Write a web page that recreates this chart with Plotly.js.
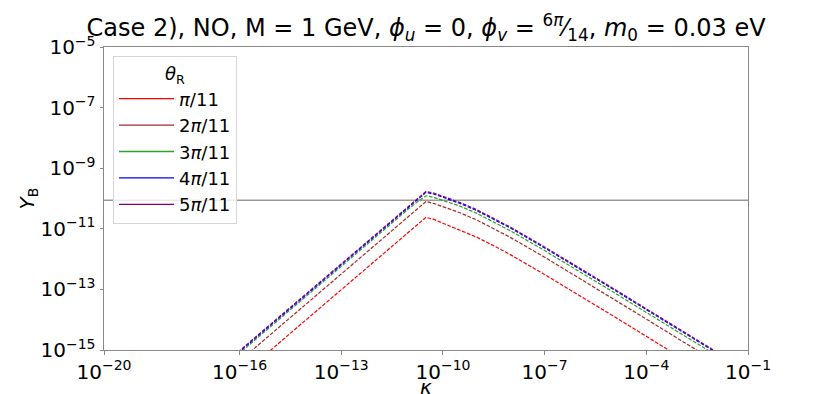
<!DOCTYPE html>
<html>
<head>
<meta charset="utf-8">
<script src="https://cdn.plot.ly/plotly-3.0.1.min.js"></script>
<style>html,body{margin:0;padding:0;background:#fff;}#chart{width:831px;height:394px;}</style>
</head>
<body>
<div id="chart"></div>
<script>
// kappa values (x)
const kappa = [1e-17, 1e-16, 1e-15, 1e-14, 1e-13, 1e-12, 3.16e-12, 1e-11, 1.78e-11, 3.16e-11, 5.62e-11, 1e-10, 3.16e-10, 1e-9, 3.16e-9, 1e-8, 1e-7, 1e-6, 1e-5, 1e-4, 1e-3, 1e-2, 1e-1];

// Y_B for each theta_R
const yb_1 = [1.45e-17, 1.32e-16, 1.20e-15, 1.10e-14, 9.99e-14, 9.12e-13, 2.76e-12, 8.32e-12, 1.45e-11, 2.40e-11, 2.00e-11, 1.54e-11, 9.11e-12, 5.25e-12, 2.76e-12, 1.38e-12, 3.09e-13, 6.61e-14, 1.38e-14, 2.82e-15, 5.76e-16, 1.17e-16, 2.46e-17];
const yb_2 = [4.80e-17, 4.36e-16, 3.98e-15, 3.63e-14, 3.31e-13, 3.02e-12, 9.14e-12, 2.76e-11, 4.80e-11, 7.94e-11, 6.76e-11, 5.35e-11, 3.39e-11, 1.95e-11, 1.02e-11, 5.12e-12, 1.15e-12, 2.45e-13, 5.12e-14, 1.05e-14, 2.14e-15, 4.36e-16, 9.14e-17];
const yb_3 = [8.74e-17, 7.94e-16, 7.25e-15, 6.61e-14, 6.02e-13, 5.50e-12, 1.59e-11, 4.68e-11, 7.78e-11, 1.23e-10, 1.07e-10, 8.47e-11, 5.62e-11, 3.24e-11, 1.70e-11, 8.50e-12, 1.91e-12, 4.08e-13, 8.50e-14, 1.74e-14, 3.55e-15, 7.25e-16, 1.52e-16];
const yb_4 = [9.8e-17, 8.91e-16, 8.13e-15, 7.41e-14, 6.76e-13, 6.17e-12, 1.87e-11, 5.63e-11, 9.8e-11, 1.59e-10, 1.38e-10, 1.09e-10, 6.92e-11, 3.98e-11, 2.09e-11, 1.05e-11, 2.34e-12, 5.01e-13, 1.05e-13, 2.14e-14, 4.37e-15, 8.91e-16, 1.87e-16];
const yb_5 = [1.05e-16, 9.55e-16, 8.71e-15, 7.94e-14, 7.24e-13, 6.61e-12, 2.00e-11, 6.03e-11, 1.05e-10, 1.70e-10, 1.48e-10, 1.17e-10, 7.41e-11, 4.27e-11, 2.24e-11, 1.12e-11, 2.51e-12, 5.37e-13, 1.12e-13, 2.29e-14, 4.68e-15, 9.55e-16, 2.00e-16];

const seriesNames = ['<i>π</i>/11', '2<i>π</i>/11', '3<i>π</i>/11', '4<i>π</i>/11', '5<i>π</i>/11'];
const seriesData = [yb_1, yb_2, yb_3, yb_4, yb_5];
const seriesColors = ['#ff0000', '#a52a2a', '#2ca02c', '#0000ff', '#800080'];

// observed baryon asymmetry
const YB_OBS = 8.7e-11;

// tick labels
const xTickVals = [1e-20, 1e-16, 1e-13, 1e-10, 1e-7, 1e-4, 1e-1];
const xTickText = ['10<sup>−20</sup>', '10<sup>−16</sup>', '10<sup>−13</sup>', '10<sup>−10</sup>', '10<sup>−7</sup>', '10<sup>−4</sup>', '10<sup>−1</sup>'];
const yTickVals = [1e-15, 1e-13, 1e-11, 1e-9, 1e-7, 1e-5];
const yTickText = ['10<sup>−15</sup>', '10<sup>−13</sup>', '10<sup>−11</sup>', '10<sup>−9</sup>', '10<sup>−7</sup>', '10<sup>−5</sup>'];
const xLabel = '<i>κ</i>';
const yLabel = '<i>Y</i><sub>B</sub>';

// dashed curves (not in legend)
const traces = seriesData.map((ys, i) => ({
  x: kappa, y: ys, type: 'scatter', mode: 'lines',
  name: seriesNames[i], showlegend: false,
  line: {color: seriesColors[i], width: 1.2, dash: '3.7px,1.6px'}
}));
// legend entries with solid line samples
seriesNames.forEach((nm, i) => {
  traces.push({
    x: [null], y: [null], type: 'scatter', mode: 'lines',
    name: nm, showlegend: true,
    line: {color: seriesColors[i], width: 1.3}
  });
});

const font = 'DejaVu Sans, sans-serif';
const layout = {
  width: 831, height: 394,
  margin: {l: 104, r: 83, t: 47, b: 44},
  paper_bgcolor: '#fff', plot_bgcolor: '#fff',
  title: {
    text: 'Case 2), NO, M = 1 GeV, <i>ϕ<sub>u</sub></i> = 0, <i>ϕ<sub>v</sub></i> = <sup>6<i>π</i></sup>⁄<sub>14</sub>, <i>m</i><sub>0</sub> = 0.03 eV',
    font: {family: font, size: 24, color: '#000'},
    x: 0.5128, xanchor: 'center', y: 0.93, yanchor: 'middle'
  },
  showlegend: true,
  legend: {
    x: 0.014, y: 0.97, xanchor: 'left', yanchor: 'top',
    bgcolor: 'rgba(255,255,255,0.8)', bordercolor: '#d6d6d6', borderwidth: 1,
    font: {family: font, size: 18, color: '#000'},
    title: {text: '<i>θ</i><sub>R</sub>', font: {family: font, size: 18, color: '#000'}, side: 'top center'},
    itemwidth: 55, tracegroupgap: 0
  },
  xaxis: {
    type: 'log', range: [-20, -1],
    tickvals: xTickVals, ticktext: xTickText,
    tickfont: {family: font, size: 20, color: '#000'},
    showgrid: false, zeroline: false,
    showline: true, linecolor: '#888', linewidth: 1, mirror: true,
    ticks: 'outside', ticklen: 3.5, tickcolor: '#888'
  },
  yaxis: {
    type: 'log', range: [-15, -5],
    tickvals: yTickVals, ticktext: yTickText,
    tickfont: {family: font, size: 20, color: '#000'},
    showgrid: false, zeroline: false,
    showline: true, linecolor: '#888', linewidth: 1, mirror: true,
    ticks: 'outside', ticklen: 3.5, tickcolor: '#888',
    title: {text: yLabel, font: {family: font, size: 20, color: '#000'}, standoff: 0}
  },
  annotations: [{
    text: xLabel, xref: 'paper', yref: 'paper', x: 0.5, y: -0.122,
    xanchor: 'center', yanchor: 'middle', showarrow: false,
    font: {family: font, size: 20, color: '#000'}
  }],
  shapes: [{
    type: 'line', xref: 'paper', x0: 0, x1: 1, yref: 'y', y0: YB_OBS, y1: YB_OBS,
    line: {color: '#999', width: 1.5}, layer: 'below'
  }]
};

Plotly.newPlot('chart', traces, layout, {displayModeBar: false, staticPlot: true});
</script>
</body>
</html>
